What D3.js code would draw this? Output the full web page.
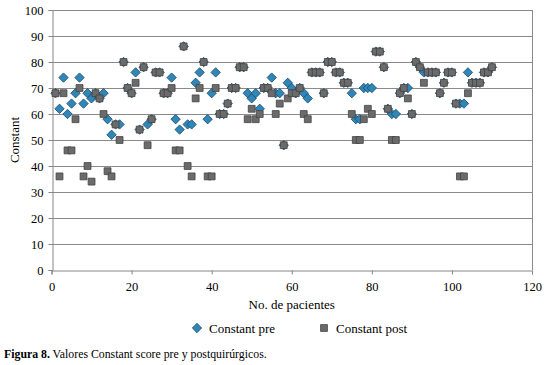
<!DOCTYPE html>
<html lang="es">
<head>
<meta charset="UTF-8">
<title>Constant score</title>
<script src="https://d3js.org/d3.v7.min.js"></script>
<style>
  body { margin: 0; background: #fff; }
  svg text { fill: #000; }
</style>
</head>
<body>
<script>
// patient numbers 1..110
const patients = d3.range(1, 111);

// Constant pre (diamonds); values hidden under a square are taken as equal to it
const constantPre = [
  68, 62, 74, 60, 64, 68, 74, 64, 68, 66,
  68, 66, 68, 58, 52, 56, 56, 80, 70, 68,
  76, 54, 78, 56, 58, 76, 76, 68, 68, 74,
  58, 54, 86, 56, 56, 72, 76, 80, 58, 68,
  76, 60, 60, 64, 70, 70, 78, 78, 68, 66,
  68, 62, 70, 70, 74, 68, 68, 48, 72, 70,
  68, 70, 68, 66, 76, 76, 76, 68, 80, 80,
  76, 76, 72, 72, 68, 58, 58, 70, 70, 70,
  84, 84, 78, 62, 60, 60, 68, 70, 70, 60,
  80, 78, 76, 76, 76, 76, 68, 72, 76, 76,
  64, 64, 64, 76, 72, 72, 72, 76, 76, 78
];

// Constant post (squares)
const constantPost = [
  68, 36, 68, 46, 46, 58, 70, 36, 40, 34,
  68, 66, 60, 38, 36, 56, 50, 80, 70, 68,
  72, 54, 78, 48, 58, 76, 76, 68, 68, 70,
  46, 46, 86, 40, 36, 66, 70, 80, 36, 36,
  70, 60, 60, 64, 70, 70, 78, 78, 58, 62,
  58, 60, 70, 70, 68, 60, 64, 48, 66, 68,
  68, 70, 60, 58, 76, 76, 76, 68, 80, 80,
  76, 76, 72, 72, 60, 50, 50, 58, 62, 60,
  84, 84, 78, 62, 50, 50, 68, 70, 66, 60,
  80, 78, 72, 76, 76, 76, 68, 72, 76, 76,
  64, 36, 36, 68, 72, 72, 72, 76, 76, 78
];

const xTicks = [0, 20, 40, 60, 80, 100, 120];
const yTicks = [0, 10, 20, 30, 40, 50, 60, 70, 80, 90, 100];
const seriesNames = ["Constant pre", "Constant post"];

const serif = "'Liberation Serif', 'Times New Roman', Times, 'DejaVu Serif', serif";

const width = 544, height = 365;
const svg = d3.select("body").append("svg")
  .attr("width", width)
  .attr("height", height)
  .attr("font-family", serif);

const x = d3.scaleLinear().domain([0, 120]).range([51.5, 532]);
const y = d3.scaleLinear().domain([0, 100]).range([270, 10]);

// horizontal grid lines
svg.append("g")
  .selectAll("line")
  .data(yTicks.filter(d => d > 0))
  .join("line")
  .attr("x1", x(0)).attr("x2", x(120))
  .attr("y1", d => Math.round(y(d)) + 0.5)
  .attr("y2", d => Math.round(y(d)) + 0.5)
  .attr("stroke", "#8a8a8a")
  .attr("stroke-width", 1);

// right border of plot area
svg.append("line")
  .attr("x1", Math.round(x(120)) + 0.5).attr("x2", Math.round(x(120)) + 0.5)
  .attr("y1", y(100)).attr("y2", y(0))
  .attr("stroke", "#8a8a8a");

// axes
const xAxis = svg.append("g")
  .attr("transform", `translate(0,${Math.round(y(0)) + 0.5})`)
  .call(d3.axisBottom(x).tickValues(xTicks).tickSize(4).tickPadding(8));

const yAxis = svg.append("g")
  .attr("transform", `translate(${Math.round(x(0)) + 0.5},0)`)
  .call(d3.axisLeft(y).tickValues(yTicks).tickSize(4).tickPadding(5));

[xAxis, yAxis].forEach(g => {
  g.attr("font-family", serif).attr("font-size", 12.5);
  g.selectAll("path, line").attr("stroke", "#868686");
  g.selectAll("text").attr("fill", "#000");
});

// axis titles
svg.append("text")
  .attr("x", (x(0) + x(120)) / 2)
  .attr("y", 309)
  .attr("text-anchor", "middle")
  .attr("font-size", 13)
  .text("No. de pacientes");

svg.append("text")
  .attr("transform", `translate(19,${y(50)}) rotate(-90)`)
  .attr("text-anchor", "middle")
  .attr("font-size", 13)
  .text("Constant");

// markers
const diamond = d3.symbol().type(d3.symbolDiamond2).size(56);
const square = d3.symbol().type(d3.symbolSquare2).size(60);

svg.append("g")
  .selectAll("path")
  .data(patients.map((p, i) => ({ p, v: constantPre[i] })))
  .join("path")
  .attr("d", diamond)
  .attr("transform", d => `translate(${x(d.p)},${y(d.v)})`)
  .attr("fill", "#2f86b8")
  .attr("stroke", "#1d4a66")
  .attr("stroke-width", 0.8);

svg.append("g")
  .selectAll("path")
  .data(patients.map((p, i) => ({ p, v: constantPost[i] })))
  .join("path")
  .attr("d", square)
  .attr("transform", d => `translate(${x(d.p)},${y(d.v)})`)
  .attr("fill", "#6b6b6b")
  .attr("stroke", "#444")
  .attr("stroke-width", 0.8);

// legend
const legend = svg.append("g").attr("transform", "translate(0,328)");
const legendItems = [
  { name: seriesNames[0], x: 197, sym: diamond, fill: "#2f86b8", stroke: "#1d4a66" },
  { name: seriesNames[1], x: 324, sym: square, fill: "#6b6b6b", stroke: "#444" }
];
legendItems.forEach(it => {
  legend.append("path")
    .attr("d", it.sym)
    .attr("transform", `translate(${it.x},0)`)
    .attr("fill", it.fill)
    .attr("stroke", it.stroke)
    .attr("stroke-width", 0.8);
  legend.append("text")
    .attr("x", it.x + 12)
    .attr("y", 4.5)
    .attr("font-size", 13)
    .text(it.name);
});

// caption
const cap = svg.append("text")
  .attr("x", 4)
  .attr("y", 358)
  .attr("font-size", 11.8);
cap.append("tspan").attr("font-weight", "bold").text("Figura 8.");
cap.append("tspan").text(" Valores Constant score pre y postquirúrgicos.");
</script>
</body>
</html>
